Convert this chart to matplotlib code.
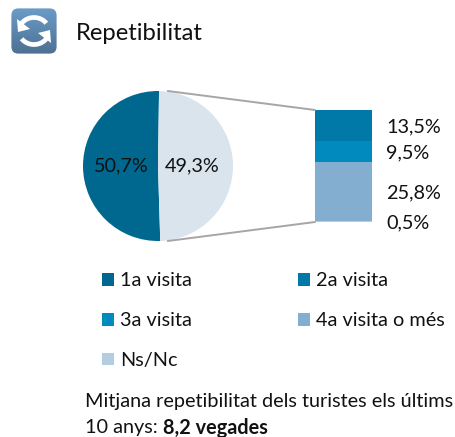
import numpy as np
import matplotlib
matplotlib.use("Agg")
import matplotlib.pyplot as plt
from matplotlib.patches import FancyBboxPatch, ConnectionPatch, Patch, Polygon

W, H = 456, 437
plt.rcParams['font.family'] = ['Lato', 'DejaVu Sans']
TXT = '#111111'
FS = 14.3

pie_labels = ['50,7%', '49,3%']
pie_values = [50.7, 49.3]
pie_colors = ['#00678F', '#DAE4ED']

bar_labels = ['13,5%', '9,5%', '25,8%', '0,5%']
bar_values = [13.5, 9.5, 25.8, 0.5]
bar_colors = ['#0079A8', '#008ABD', '#84AECF', '#B5CDE0']

legend_labels = ['1a visita', '3a visita', 'Ns/Nc', '2a visita', '4a visita o més']
legend_colors = ['#00678F', '#008ABD', '#B5CDE0', '#0079A8', '#84AECF']

title = 'Repetibilitat'
note_1 = 'Mitjana repetibilitat dels turistes els últims'
note_2 = '10 anys: '
note_bold = '8,2 vegades'


def box(x0, y0, x1, y1):
    return [x0 / W, 1 - y1 / H, (x1 - x0) / W, (y1 - y0) / H]


fig = plt.figure(figsize=(W / 100, H / 100), dpi=100, facecolor='white')

# icon
ic = fig.add_axes(box(11, 8, 57, 54))
ic.set_xlim(0, 46); ic.set_ylim(46, 0); ic.axis('off')
grad = np.linspace(0, 1, 64)[:, None, None]
c0 = np.array([0.42, 0.61, 0.78])[None, None, :]
c1 = np.array([0.30, 0.44, 0.58])[None, None, :]
im = ic.imshow(np.clip(c0 * (1 - grad) + c1 * grad, 0, 1), extent=(0, 46, 46, 0), aspect='auto')
clip = FancyBboxPatch((5, 5), 36, 36, boxstyle='round,pad=4.6,rounding_size=7',
                      transform=ic.transData, fc='none', ec='none')
ic.add_patch(clip)
im.set_clip_path(clip)
t1 = np.radians(np.linspace(200, 325, 30))
t2 = np.radians(np.linspace(20, 145, 30))
ic.plot(23 + 15 * np.cos(t1), 23 + 13.5 * np.sin(t1), color='white', lw=3.4, solid_capstyle='butt')
ic.plot(23 + 15 * np.cos(t2), 23 + 13.5 * np.sin(t2), color='white', lw=3.4, solid_capstyle='butt')
ic.add_patch(Polygon([[6, 11], [7, 24], [19, 21]], fc='white', ec='none'))
ic.add_patch(Polygon([[40, 35], [39, 22], [27, 25]], fc='white', ec='none'))

fig.text(76 / W, 1 - 33 / H, title, fontsize=17.2, color=TXT, va='center', ha='left')

# pie
ax_pie = fig.add_axes(box(83, 91, 233, 241))
ax_pie.pie(pie_values, colors=pie_colors, startangle=89.2, counterclock=True,
           radius=1, wedgeprops=dict(linewidth=0))
ax_pie.set_xlim(-1, 1); ax_pie.set_ylim(-1, 1)
ax_pie.text(-0.49, 0.0, pie_labels[0], ha='center', va='center', fontsize=FS, color=TXT)
ax_pie.text(0.46, 0.0, pie_labels[1], ha='center', va='center', fontsize=FS, color=TXT)

# stacked column
ax_bar = fig.add_axes(box(315, 110, 372, 222))
total = sum(bar_values)
bottom = total
for v, c, l in zip(bar_values, bar_colors, bar_labels):
    bottom -= v
    ax_bar.bar(0, v, bottom=bottom, width=1, color=c, linewidth=0)
    ax_bar.annotate(l, (1, bottom + v / 2), xycoords=('axes fraction', 'data'),
                    xytext=(14 * 0.72, -1.2 * 0.72), textcoords='offset points',
                    ha='left', va='center', fontsize=FS, color=TXT)
ax_bar.set_xlim(-0.5, 0.5); ax_bar.set_ylim(0, total); ax_bar.axis('off')

# connectors
for xa, ya, yb in [(0.13, 1.0, total), (0.13, -1.0, 0)]:
    fig.add_artist(ConnectionPatch((xa, ya), (-0.5, yb), coordsA='data', coordsB='data',
                                   axesA=ax_pie, axesB=ax_bar, color='#A6A6A6', lw=1.4))

# legend
handles = [Patch(fc=c, ec='none') for c in legend_colors]
fig.legend(handles, legend_labels, ncols=2, frameon=False, loc='upper left',
           bbox_to_anchor=(102 / W, 1 - 272.5 / H), borderpad=0, borderaxespad=0,
           handlelength=0.6, handleheight=0.6, handletextpad=0.3,
           labelspacing=1.15, columnspacing=5.35, fontsize=FS, labelcolor=TXT)

# note
fig.text(85 / W, 1 - 401.5 / H, note_1, fontsize=FS, color=TXT, va='center', ha='left')
t = fig.text(85 / W, 1 - 427.5 / H, note_2.strip(), fontsize=FS, color=TXT, va='center', ha='left')
fig.canvas.draw()
bb = t.get_window_extent()
fig.text((bb.x1 + 5) / W, 1 - 427.5 / H, note_bold, fontsize=FS, color=TXT, va='center', ha='left', fontweight='bold')

fig.savefig('out.png', dpi=100, facecolor='white')
